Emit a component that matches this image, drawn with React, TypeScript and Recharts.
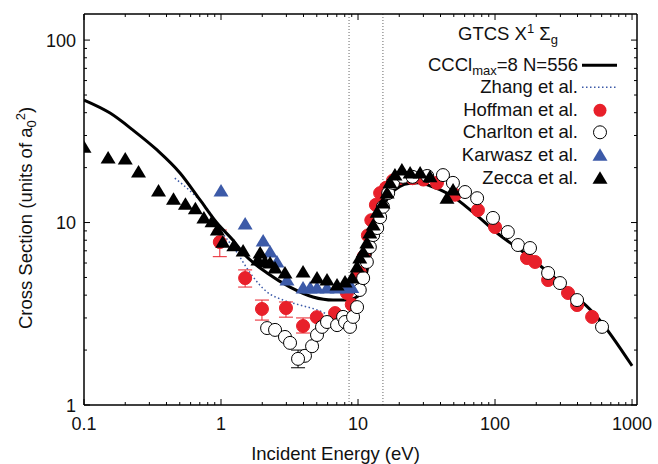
import React from "react";
import {
  ComposedChart,
  Line,
  Scatter,
  XAxis,
  YAxis,
  ReferenceLine,
  ErrorBar,
  Legend,
  Label,
} from "recharts";

const FONT = '"Liberation Sans", Arial, Helvetica, sans-serif';
const RED = "#e8202a";
const BLUE = "#3c5aa8";

// axis ticks
const X_DECADES = [0.1, 1, 10, 100, 1000];
const X_TICK_LABELS = ["0.1", "1", "10", "100", "1000"];
const Y_DECADES = [1, 10, 100];
const Y_TICK_LABELS = ["1", "10", "100"];
const MINOR_STEPS = [2, 3, 4, 5, 6, 7, 8, 9];

// thresholds (dotted verticals)
const THRESHOLDS = [8.6, 15.2];

// CCC lmax=8 N=556
const CCC_E = [0.1, 0.155, 0.228, 0.341, 0.502, 0.703, 0.935, 1.22, 1.45, 2.17, 3.19, 4.69, 6.57, 8.32, 10.3, 11.2, 12.2, 13.3, 14.5, 15.8, 17.5, 20, 24, 28, 33.5, 47, 69, 103.5, 171, 313, 556, 1000];
const CCC_S = [46.9, 39.8, 32.1, 25.0, 18.7, 13.3, 9.94, 8.02, 6.81, 5.29, 4.43, 3.91, 3.76, 3.76, 4.01, 4.8, 6.5, 8.9, 11.0, 12.9, 14.5, 15.7, 16.4, 16.5, 15.9, 14.2, 11.4, 8.76, 6.64, 4.54, 3.04, 1.64];

// Zhang et al.
const ZHANG_E = [0.46, 0.6, 0.8, 1.0, 1.3, 1.63, 2.17, 2.84, 3.77, 5.02, 5.94];
const ZHANG_S = [17.5, 14.8, 11.8, 9.0, 6.9, 5.3, 4.16, 3.76, 3.53, 3.32, 3.15];

// Hoffman et al. (points with error bars)
const HOFF_ERR_E = [0.98, 1.5, 1.99, 2.98, 3.97];
const HOFF_ERR_S = [7.82, 4.96, 3.36, 3.4, 2.71];
const HOFF_ERR_LO = [1.32, 0.53, 0.44, 0.37, 0.23];
const HOFF_ERR_HI = [1.28, 0.54, 0.4, 0.27, 0.29];
// Hoffman et al. (rest)
const HOFF_E = [5.0, 6.8, 8.3, 9.0, 10.3, 11.0, 11.8, 12.5, 13.5, 14.5, 16, 18, 20, 25, 30, 37.7, 51, 75, 100, 171, 196, 244, 341, 397, 511];
const HOFF_S = [3.03, 3.19, 4.11, 3.55, 5.3, 6.5, 8.5, 10.3, 12.5, 14.5, 15.5, 17.0, 17.5, 17.5, 17.2, 16.5, 14.2, 11.7, 9.45, 6.39, 6.08, 4.84, 4.11, 3.53, 3.04];

// Charlton et al.
const CHARL_E = [2.17, 2.48, 2.93, 3.19, 4.1, 4.62, 5.02, 5.46, 5.94, 7.03, 7.78, 8.04, 8.74, 9.2, 9.84, 10.3, 10.9, 11.6, 12.2, 12.9, 13.8, 14.5, 15.2, 16.6, 18, 21.3, 25, 32, 41.7, 49.3, 60.4, 74, 96.6, 124, 147, 180, 244, 298, 397, 604];
const CHARL_S = [2.64, 2.58, 2.36, 2.19, 1.86, 2.1, 2.42, 2.68, 2.85, 2.74, 3.04, 2.85, 2.68, 3.04, 3.44, 4.27, 4.96, 6.08, 7.34, 8.54, 9.33, 10.7, 12.2, 14.5, 16.5, 17.8, 17.8, 18.0, 18.2, 16.5, 14.7, 13.6, 10.6, 8.87, 7.53, 7.25, 5.29, 4.66, 3.76, 2.68];
const CHARL_ERR_E = [3.65];
const CHARL_ERR_S = [1.79];
const CHARL_ERR_LO = [0.19];
const CHARL_ERR_HI = [0.21];

// Karwasz et al.
const KARW_E = [1.0, 1.5, 2.03, 2.28, 2.56, 3.03, 3.97, 4.47, 5.02, 5.94, 7.03, 8.3, 9.0];
const KARW_S = [14.9, 9.82, 7.92, 6.89, 6.08, 4.84, 4.38, 4.38, 4.38, 4.38, 4.38, 4.38, 4.4];

// Zecca et al.
const ZECCA_E = [0.1, 0.15, 0.2, 0.25, 0.35, 0.45, 0.55, 0.65, 0.75, 0.86, 0.94, 1.03, 1.24, 1.45, 1.86, 1.93, 2.09, 2.28, 2.48, 2.93, 3.97, 5.02, 5.94, 7.03, 8.04, 9.04, 9.84, 10.3, 10.9, 11.6, 12.2, 12.9, 13.8, 15.2, 16.3, 17.1, 18.6, 20.9, 24, 28.4, 33.5, 44.6, 49.4];
const ZECCA_S = [25.9, 22.6, 22.3, 18.9, 14.9, 13.4, 12.6, 11.9, 10.6, 10.1, 9.1, 7.8, 7.45, 6.98, 6.23, 6.81, 6.08, 6.0, 5.63, 5.29, 5.35, 4.96, 4.84, 4.54, 4.72, 4.96, 5.7, 6.39, 6.89, 7.72, 8.76, 9.69, 11.4, 12.8, 14.5, 16.5, 18.2, 19.4, 18.7, 18.7, 17.8, 13.6, 15.1];

const pts = (e: number[], s: number[]) => e.map((v, i) => ({ e: v, s: s[i] }));
const errPts = (e: number[], s: number[], lo: number[], hi: number[]) =>
  e.map((v, i) => ({ e: v, s: s[i], err: [lo[i], hi[i]] }));

const cccData = pts(CCC_E, CCC_S);
const zhangData = pts(ZHANG_E, ZHANG_S);
const hoffData = pts(HOFF_E, HOFF_S);
const hoffErrData = errPts(HOFF_ERR_E, HOFF_ERR_S, HOFF_ERR_LO, HOFF_ERR_HI);
const charlData = pts(CHARL_E, CHARL_S);
const charlErrData = errPts(CHARL_ERR_E, CHARL_ERR_S, CHARL_ERR_LO, CHARL_ERR_HI);
const karwData = pts(KARW_E, KARW_S);
const zeccaData = pts(ZECCA_E, ZECCA_S);

const xTicks = X_DECADES.flatMap((d, i) => (i < X_DECADES.length - 1 ? [d, ...MINOR_STEPS.map((m) => d * m)] : [d]));
const yTicks = Y_DECADES.flatMap((d, i) => (i < Y_DECADES.length - 1 ? [d, ...MINOR_STEPS.map((m) => d * m)] : [d]));

const majorIdx = (list: number[], v: number) => list.findIndex((d) => Math.abs(d - v) < 1e-9);

const tickText = { fontFamily: FONT, fontSize: 18, fill: "#111" };

const BottomTick = (p: any) => {
  const i = majorIdx(X_DECADES, p.payload.value);
  return (
    <g>
      <line x1={p.x} x2={p.x} y1={p.y} y2={p.y - (i >= 0 ? 6 : 3)} stroke="#000" strokeWidth={1} />
      {i >= 0 && (
        <text x={p.x} y={p.y + 25} textAnchor="middle" {...tickText}>
          {X_TICK_LABELS[i]}
        </text>
      )}
    </g>
  );
};
const TopTick = (p: any) => {
  const i = majorIdx(X_DECADES, p.payload.value);
  return <line x1={p.x} x2={p.x} y1={p.y} y2={p.y + (i >= 0 ? 6 : 3)} stroke="#000" strokeWidth={1} />;
};
const LeftTick = (p: any) => {
  const i = majorIdx(Y_DECADES, p.payload.value);
  return (
    <g>
      <line x1={p.x} x2={p.x + (i >= 0 ? 6 : 3)} y1={p.y} y2={p.y} stroke="#000" strokeWidth={1} />
      {i >= 0 && (
        <text x={p.x - 8} y={p.y + 6.5} textAnchor="end" {...tickText}>
          {Y_TICK_LABELS[i]}
        </text>
      )}
    </g>
  );
};
const RightTick = (p: any) => {
  const i = majorIdx(Y_DECADES, p.payload.value);
  return <line x1={p.x} x2={p.x - (i >= 0 ? 6 : 3)} y1={p.y} y2={p.y} stroke="#000" strokeWidth={1} />;
};

const XTitle = () => (
  <text x={335.5} y={460} textAnchor="middle" fontFamily={FONT} fontSize={18.5} fill="#111">
    Incident Energy (eV)
  </text>
);
const YTitle = () => {
  const cx = 32;
  const cy = 218;
  return (
    <text x={cx} y={cy} transform={`rotate(-90 ${cx} ${cy})`} textAnchor="middle" fontFamily={FONT} fontSize={18.5} fill="#111">
      Cross Section (units of a
      <tspan dy={4} fontSize={13}>0</tspan>
      <tspan dy={-11} fontSize={13}>2</tspan>
      <tspan dy={7}>)</tspan>
    </text>
  );
};

const Circle = (color: string, fill: string) => (p: any) =>
  <circle cx={p.cx} cy={p.cy} r={6.5} fill={fill} stroke={color} strokeWidth={1} />;
const Tri = (color: string) => (p: any) =>
  <polygon points={`${p.cx},${p.cy - 7} ${p.cx - 7.5},${p.cy + 5.5} ${p.cx + 7.5},${p.cy + 5.5}`} fill={color} />;

const LegendSymbol = ({ kind }: { kind: string }) => (
  <svg width={44} height={22.6} style={{ display: "block" }}>
    {kind === "ccc" && <line x1={4} x2={39} y1={11.3} y2={11.3} stroke="#000" strokeWidth={3} />}
    {kind === "zhang" && <line x1={4} x2={39} y1={11.3} y2={11.3} stroke={BLUE} strokeWidth={1.5} strokeDasharray="1.5 2.5" />}
    {kind === "hoff" && <circle cx={22} cy={11.3} r={6.5} fill={RED} />}
    {kind === "charl" && <circle cx={22} cy={11.3} r={6.5} fill="#fff" stroke="#000" strokeWidth={1} />}
    {kind === "karw" && <polygon points="22,4.3 14.5,16.8 29.5,16.8" fill={BLUE} />}
    {kind === "zecca" && <polygon points="22,4.3 14.5,16.8 29.5,16.8" fill="#000" />}
  </svg>
);

const sub = { fontSize: 13, verticalAlign: "-4px", lineHeight: 0 } as const;
const sup = { fontSize: 13, verticalAlign: "7px", lineHeight: 0 } as const;

const LEGEND_ROWS: { kind: string; label: React.ReactNode }[] = [
  { kind: "ccc", label: <>CCCl<span style={sub}>max</span>=8 N=556</> },
  { kind: "zhang", label: "Zhang et al." },
  { kind: "hoff", label: "Hoffman et al." },
  { kind: "charl", label: "Charlton et al." },
  { kind: "karw", label: "Karwasz et al." },
  { kind: "zecca", label: "Zecca et al." },
];

const LegendBox = () => (
  <div style={{ fontFamily: FONT, fontSize: 18.5, color: "#111", width: 222 }}>
    <div style={{ height: 22.6, lineHeight: "22.6px", textAlign: "center", paddingRight: 6, marginBottom: 7.7, whiteSpace: "nowrap" }}>
      GTCS X<span style={sup}>1</span> Σ<span style={sub}>g</span>
    </div>
    {LEGEND_ROWS.map((r) => (
      <div key={r.kind} style={{ display: "flex", justifyContent: "flex-end", alignItems: "center", height: 22.6 }}>
        <span style={{ lineHeight: "22.6px", whiteSpace: "nowrap" }}>{r.label}</span>
        <LegendSymbol kind={r.kind} />
      </div>
    ))}
  </div>
);

export default function App() {
  return (
    <div style={{ position: "absolute", left: 0, top: 0, width: 658, height: 464, background: "#fff" }}>
      <ComposedChart width={658} height={464} margin={{ top: 0, right: 0, bottom: 0, left: 0 }}>
        <XAxis
          xAxisId="b"
          dataKey="e"
          type="number"
          scale="log"
          domain={[0.1, 1087]}
          allowDataOverflow
          ticks={xTicks}
          interval={0}
          height={59}
          tickSize={0}
          tickMargin={0}
          tick={(p: any) => <BottomTick {...p} />}
          axisLine={{ stroke: "#000", strokeWidth: 1.5 }}
        >
          <Label content={() => <XTitle />} />
        </XAxis>
        <XAxis
          xAxisId="t"
          orientation="top"
          dataKey="e"
          type="number"
          scale="log"
          domain={[0.1, 1087]}
          allowDataOverflow
          ticks={xTicks}
          interval={0}
          height={14}
          tickSize={0}
          tickMargin={0}
          tick={(p: any) => <TopTick {...p} />}
          axisLine={{ stroke: "#000", strokeWidth: 1.5 }}
        />
        <YAxis
          yAxisId="l"
          dataKey="s"
          type="number"
          scale="log"
          domain={[1, 139]}
          allowDataOverflow
          ticks={yTicks}
          interval={0}
          width={84}
          tickSize={0}
          tickMargin={0}
          tick={(p: any) => <LeftTick {...p} />}
          axisLine={{ stroke: "#000", strokeWidth: 1.5 }}
        >
          <Label content={() => <YTitle />} />
        </YAxis>
        <YAxis
          yAxisId="r"
          orientation="right"
          dataKey="s"
          type="number"
          scale="log"
          domain={[1, 139]}
          allowDataOverflow
          ticks={yTicks}
          interval={0}
          width={21}
          tickSize={0}
          tickMargin={0}
          tick={(p: any) => <RightTick {...p} />}
          axisLine={{ stroke: "#000", strokeWidth: 1.5 }}
        />
        {THRESHOLDS.map((t) => (
          <ReferenceLine key={t} x={t} xAxisId="b" yAxisId="l" stroke="#666" strokeWidth={1} strokeDasharray="1 2" />
        ))}
        <Line data={zhangData} xAxisId="b" yAxisId="l" dataKey="s" type="monotone" stroke={BLUE} strokeWidth={1.5} strokeDasharray="1.5 2.5" dot={false} activeDot={false} isAnimationActive={false} />
        <Scatter data={hoffErrData} xAxisId="b" yAxisId="l" shape={Circle(RED, RED)} isAnimationActive={false}>
          <ErrorBar dataKey="err" direction="y" width={7} stroke={RED} strokeWidth={1} />
        </Scatter>
        <Scatter data={hoffData} xAxisId="b" yAxisId="l" shape={Circle(RED, RED)} isAnimationActive={false} />
        <Scatter data={charlData} xAxisId="b" yAxisId="l" shape={Circle("#000", "#fff")} isAnimationActive={false} />
        <Scatter data={charlErrData} xAxisId="b" yAxisId="l" shape={Circle("#000", "#fff")} isAnimationActive={false}>
          <ErrorBar dataKey="err" direction="y" width={7} stroke="#000" strokeWidth={1} />
        </Scatter>
        <Line data={cccData} xAxisId="b" yAxisId="l" dataKey="s" type="monotone" stroke="#000" strokeWidth={3} dot={false} activeDot={false} isAnimationActive={false} />
        <Scatter data={karwData} xAxisId="b" yAxisId="l" shape={Tri(BLUE)} isAnimationActive={false} />
        <Scatter data={zeccaData} xAxisId="b" yAxisId="l" shape={Tri("#000")} isAnimationActive={false} />
        <Legend layout="horizontal" verticalAlign="middle" align="center" wrapperStyle={{ left: 400, top: 23.4, width: 222 }} content={() => <LegendBox />} />
      </ComposedChart>
    </div>
  );
}
